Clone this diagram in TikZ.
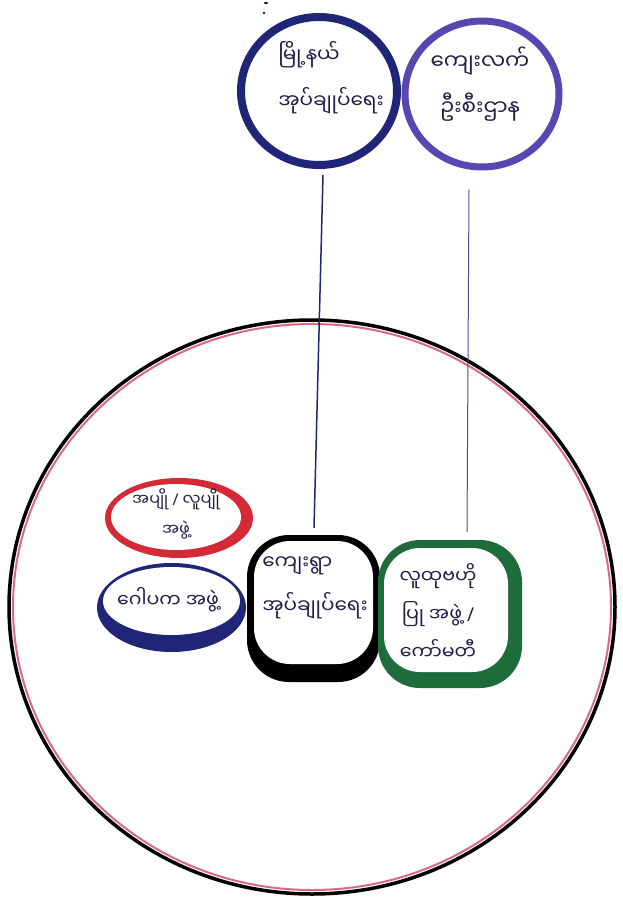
\documentclass[tikz,border=0pt]{standalone}
\usepackage{fontspec}
\newfontfamily\mya[Script=Myanmar]{Noto Sans Myanmar UI}
\newfontfamily\latf{Noto Sans}
\newcommand{\slsh}{{\latf /}}
\usetikzlibrary{shapes.geometric,calc}
\definecolor{navy}{HTML}{1F2677}
\definecolor{violetp}{HTML}{5A46B0}
\definecolor{ink}{HTML}{1E1E48}
\definecolor{redp}{HTML}{D42A35}
\definecolor{greenp}{HTML}{1E6B3C}
\definecolor{pinkr}{HTML}{D96A86}
\definecolor{linkv}{HTML}{4C4F92}
\tikzset{
  lab/.style={font=\mya\fontsize{20}{46}\selectfont, text=ink, align=center, inner sep=0pt},
  bigring/.style={ellipse, draw=black, line width=3.5pt, inner sep=0pt},
  topring/.style={ellipse, line width=8pt, inner sep=0pt},
  blob/.style={ellipse, inner sep=0pt},
  boxo/.style={rectangle, rounded corners=42pt, inner sep=0pt},
  boxi/.style={rectangle, rounded corners=36pt, inner sep=0pt, fill=white},
  linka/.style={draw=navy, line width=1.5pt},
  linkb/.style={draw=linkv, line width=1pt}
}
\begin{document}
\begin{tikzpicture}[x=1pt,y=-1pt]
\useasboundingbox (0,0) rectangle (622,900);
\fill[white] (0,0) rectangle (622,900);
% big outer circle
\node[bigring, minimum width=606pt, minimum height=574pt] (world) at (312,607) {};
\draw[pinkr, line width=2pt] (312,607) ellipse [x radius=299pt, y radius=283pt];
% top circles
\node[topring, draw=navy, minimum width=156pt, minimum height=148pt] (tl) at (319,91) {};
\node[topring, draw=violetp, line width=7pt, minimum width=154pt, minimum height=146pt] (tr) at (482,94) {};
\node[lab, align=left] (tlt) at (331,78) {မြို့နယ်\\အုပ်ချုပ်ရေး};
\node[lab, font=\mya\fontsize{21.5}{46}\selectfont] (trt) at (480,84) {ကျေးလက်\\ဦးစီးဌာန};
% red ellipse
\node[blob, fill=redp, minimum width=148pt, minimum height=80pt] (ro) at (179,518) {};
\node[blob, fill=white, minimum width=130pt, minimum height=66pt] (ri) at (176,517) {};
\node[lab, font=\mya\fontsize{16}{30}\selectfont] (rt) at (176,514) {အပျို \slsh{} လူပျို\\အဖွဲ့};
% blue ellipse
\node[blob, fill=navy, minimum width=149pt, minimum height=89pt] (bo) at (171.5,607.5) {};
\node[blob, fill=white, minimum width=137pt, minimum height=68pt] (bi) at (171.5,601) {};
\node[lab, font=\mya\fontsize{19}{30}\selectfont] (bt) at (168,600) {ဂေါပက အဖွဲ့};
% black box
\node[boxo, fill=black, minimum width=133pt, minimum height=147pt] (vb) at (313.5,608.5) {};
\node[boxi, minimum width=119pt, minimum height=123pt] (vi) at (313.5,602.5) {};
\node[lab, align=left, font=\mya\fontsize{20}{44}\selectfont] (vt) at (315,588) {ကျေးရွာ\\အုပ်ချုပ်ရေး};
% green box
\node[boxo, fill=greenp, minimum width=144pt, minimum height=148pt] (gc) at (450,614) {};
\node[boxi, minimum width=124pt, minimum height=124pt] (gi) at (446,610) {};
\node[lab, font=\mya\fontsize{19}{38}\selectfont] (gt) at (438,612) {လူထုဗဟို\\ပြု အဖွဲ့ \slsh\\ကော်မတီ};
% connectors
\draw[linka] ($(tl.south)+(4,6)$) -- ($(vb.north)+(0.5,-7)$);
\draw[linkb] ($(tr.south)+(-13,19)$) -- ($(gc.north)+(17,-8)$);
% small pen marks at top
\fill[ink] (266,3) ellipse [x radius=2pt, y radius=1.2pt];
\fill[ink] (264,13) ellipse [x radius=1.6pt, y radius=1.3pt];
\end{tikzpicture}
\end{document}
